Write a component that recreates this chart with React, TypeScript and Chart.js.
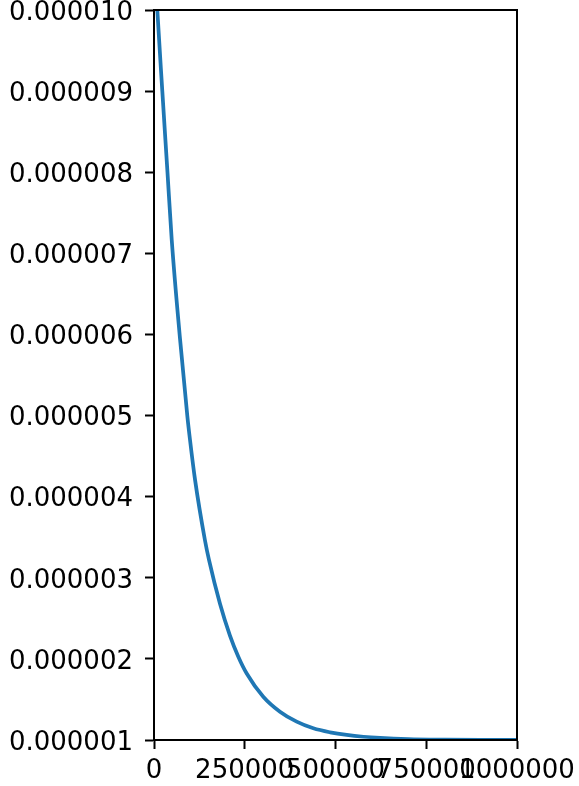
import React, { useEffect, useRef } from "react";
import { Chart, registerables } from "chart.js";

Chart.register(...registerables);

// values
const xValues = [0, 9100, 22900, 37100, 48800, 71600, 91700, 99200, 113000, 140500, 151500, 181800, 209000, 232000, 255400, 301000, 347000, 393000, 439000, 485000, 531000, 577000, 623000, 700000, 800000, 900000, 1000000];
const yValues = [10.8e-6, 10.0e-6, 9.0e-6, 8.0e-6, 7.17e-6, 5.95e-6, 5.0e-6, 4.7e-6, 4.21e-6, 3.46e-6, 3.22e-6, 2.68e-6, 2.29e-6, 2.03e-6, 1.82e-6, 1.534e-6, 1.349e-6, 1.226e-6, 1.144e-6, 1.095e-6, 1.062e-6, 1.04e-6, 1.026e-6, 1.012e-6, 1.005e-6, 1.002e-6, 1.001e-6];
const xTicks = [0, 250000, 500000, 750000, 1000000];
const yTicks = [1e-6, 2e-6, 3e-6, 4e-6, 5e-6, 6e-6, 7e-6, 8e-6, 9e-6, 10e-6];

const FONT = { family: "'DejaVu Sans'", size: 26 };

const frame = {
  id: "frame",
  afterDatasetsDraw(chart: any) {
    const { ctx, chartArea: a } = chart;
    ctx.save();
    ctx.strokeStyle = "#000";
    ctx.lineWidth = 2;
    ctx.strokeRect(a.left, a.top, a.right - a.left, a.bottom - a.top);
    ctx.restore();
  },
};

export default function App() {
  const ref = useRef<HTMLCanvasElement>(null);
  useEffect(() => {
    const data = xValues.map((x, i) => ({ x, y: yValues[i] }));
    const chart = new Chart(ref.current!, {
      type: "line",
      data: {
        datasets: [
          {
            data,
            borderColor: "#1f77b4",
            borderWidth: 3.75,
            pointRadius: 0,
            cubicInterpolationMode: "monotone",
            fill: false,
          },
        ],
      },
      plugins: [frame],
      options: {
        animation: false,
        responsive: false,
        devicePixelRatio: 1,
        layout: { padding: { top: 10, right: 62, left: 0, bottom: 0 } },
        plugins: { legend: { display: false }, tooltip: { enabled: false } },
        scales: {
          x: {
            type: "linear",
            min: 0,
            max: 1000000,
            afterFit: (s: any) => {
              s.height = 46;
              s.paddingLeft = 0;
              s.paddingRight = 0;
            },
            afterBuildTicks: (s: any) => { s.ticks = xTicks.map((v) => ({ value: v })); },
            grid: { drawOnChartArea: false, drawTicks: true, tickLength: 9, tickWidth: 2, tickColor: "#000" },
            border: { color: "#000", width: 2 },
            ticks: {
              autoSkip: false,
              maxRotation: 0,
              minRotation: 0,
              padding: 7,
              color: "#000",
              font: FONT,
              callback: (v: any) => String(v),
            },
          },
          y: {
            type: "linear",
            min: 1e-6,
            max: 1e-5,
            afterFit: (s: any) => {
              s.width = 154;
              s.paddingTop = 0;
              s.paddingBottom = 0;
            },
            afterBuildTicks: (s: any) => { s.ticks = yTicks.map((v) => ({ value: v })); },
            grid: { drawOnChartArea: false, drawTicks: true, tickLength: 9, tickWidth: 2, tickColor: "#000" },
            border: { color: "#000", width: 2 },
            ticks: {
              padding: 12,
              labelOffset: 3,
              color: "#000",
              font: FONT,
              callback: (v: any) => Number(v).toFixed(6),
            },
          },
        },
      },
    } as any);
    return () => chart.destroy();
  }, []);
  return (
    <div style={{ position: "absolute", left: 0, top: 0, width: 579, height: 786, background: "#fff" }}>
      <canvas ref={ref} width={579} height={786} style={{ width: 579, height: 786, display: "block" }} />
    </div>
  );
}
